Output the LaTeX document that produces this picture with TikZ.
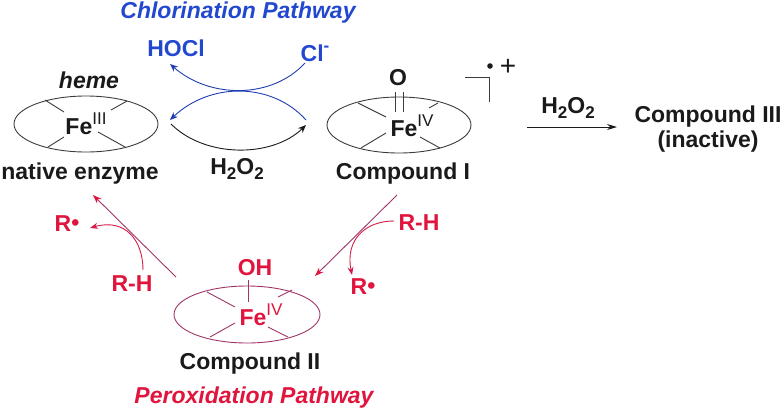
\documentclass[tikz,border=0pt]{standalone}
\usepackage{fontspec}
\setmainfont{Liberation Sans}
\usetikzlibrary{arrows.meta,shapes.geometric}
\definecolor{bluec}{HTML}{2348D0}
\definecolor{redc}{HTML}{E0143C}
\definecolor{purp}{HTML}{A03468}
\definecolor{ink}{HTML}{1A1A1A}
\newcommand{\fe}[1]{Fe\raisebox{0.45em}{\fontsize{17}{17}\selectfont\mdseries #1}}
\newcommand{\subtwo}{\raisebox{-0.2em}{\fontsize{17}{17}\selectfont 2}}
\tikzset{
  x=1pt,y=-1pt,
  lab/.style={font=\fontsize{23}{26}\selectfont\bfseries,text=ink,inner sep=0pt,align=center},
  bluelab/.style={lab,text=bluec},
  redlab/.style={lab,text=redc},
  path1/.style={font=\fontsize{23}{26}\selectfont\bfseries\itshape,inner sep=0pt},
  ring/.style={draw=#1,line width=0.9pt,ellipse},
  spoke/.style={line width=0.9pt},
  tip/.style={-{Stealth[length=8pt,width=6.5pt]},line width=0.9pt},
  redtip/.style={-{Stealth[length=9pt,width=6.5pt,color=redc]},line width=0.9pt,purp},
}
\begin{document}
\begin{tikzpicture}
\useasboundingbox (0,0) rectangle (784,413);
% texts
\node[path1,text=bluec] (chl) at (238,13) {Chlorination Pathway};
\node[bluelab] (hocl) at (176,48) {HOCl};
\node[bluelab] (cl) at (315,53) {Cl\raisebox{0.42em}{\fontsize{17}{17}\selectfont -}};
\node[path1,text=ink] (heme) at (89,80) {heme};
\node[lab] (nat) at (80,174) {native enzyme};
\node[lab] (hp) at (237,169) {H\subtwo O\subtwo};
\node[lab] (c1) at (403,174) {Compound I};
\node[lab] (o) at (398,78) {O};
\node[lab] (hp2) at (568,108) {H\subtwo O\subtwo};
\node[lab] (c3) at (708,117) {Compound III};
\node[lab] (c3b) at (708,142) {(inactive)};
\node[lab] (c2) at (250,364) {Compound II};
\node[path1,text=redc] (per) at (254,398) {Peroxidation Pathway};
\node[redlab] (rl) at (67,224) {R\raisebox{0.08em}{\textbullet}};
\node[redlab] (rhl) at (132,284) {R-H};
\node[redlab] (rhr) at (419,223) {R-H};
\node[redlab] (rr) at (363,287) {R\raisebox{0.08em}{\textbullet}};
\node[redlab] (oh) at (255,268) {OH};
% rings
\node[ring=ink!85,minimum width=144pt,minimum height=56pt,inner sep=0pt] (h1) at (86,124) {};
\node[ring=ink!85,minimum width=144pt,minimum height=56pt,inner sep=0pt] (h2) at (399,125) {};
\node[ring=purp,minimum width=146pt,minimum height=57pt,inner sep=0pt] (h3) at (247,314.5) {};
\node[lab] (fe1) at (86,124) {\fe{III}};
\node[lab] (fe2) at (412,126) {\fe{IV}};
\node[redlab] (fe3) at (261,315) {\fe{IV}};
% spokes
\draw[spoke,ink!85] (45,100)--(64,112) (127,101)--(111,110) (48,147)--(64,137) (98,132)--(125,147);
\draw[spoke,ink!85] (358,103)--(386,117) (429,108)--(438,103) (361,148)--(386,133) (420,137)--(440,148);
\draw[spoke,ink!85] (395,92)--(395,112) (403,92)--(403,112);
\draw[spoke,purp] (207,292)--(235,307) (278,297)--(292,290) (210,337)--(235,323) (268,327)--(288,337);
\draw[spoke,purp] (248,280)--(248,302);
% radical cation bracket
\draw[spoke,ink!85] (465,77)--(489,77)--(489,102);
\fill[ink] (490,66) circle (2.8pt);
\node[inner sep=0pt,font=\fontsize{28}{28}\selectfont,text=ink] (plus) at (508,67) {+};
% free ends
\coordinate (clS) at (305,63);
\coordinate (hoclT) at (170,64);
\coordinate (a) at (306,120);
\coordinate (b) at (170,120);
\coordinate (c) at (171,124);
\coordinate (d) at (306,125);
\coordinate (e) at (527,127);
\coordinate (f) at (617,127);
% blue and black arrows
\draw[tip,bluec!85!black] (clS) .. controls (272,99) and (210,99) .. (hoclT);
\draw[tip,bluec!85!black] (a) .. controls (272,82) and (210,82) .. (b);
\draw[tip,ink] (c) .. controls (205,158) and (272,158) .. (d);
\draw[-{Stealth[length=10pt,width=6pt]},line width=0.9pt,ink] (e) -- (f);
% red arrows
\coordinate (p1) at (176,277);
\coordinate (p2) at (93,195);
\coordinate (p3) at (397,195);
\coordinate (p4) at (315,276);
\coordinate (q1) at (143,270);
\coordinate (q2) at (90,228);
\coordinate (q3) at (394,221);
\coordinate (q4) at (352,275);
\draw[redtip] (p1) -- (p2);
\draw[redtip] (p3) -- (p4);
\draw[redc!80!purp,-{Stealth[length=8pt,width=6pt]},line width=0.9pt] (q1) .. controls (143,240) and (125,218) .. (q2);
\draw[redc!80!purp,-{Stealth[length=8pt,width=6pt]},line width=0.9pt] (q3) .. controls (365,221) and (345,240) .. (q4);
\end{tikzpicture}
\end{document}
